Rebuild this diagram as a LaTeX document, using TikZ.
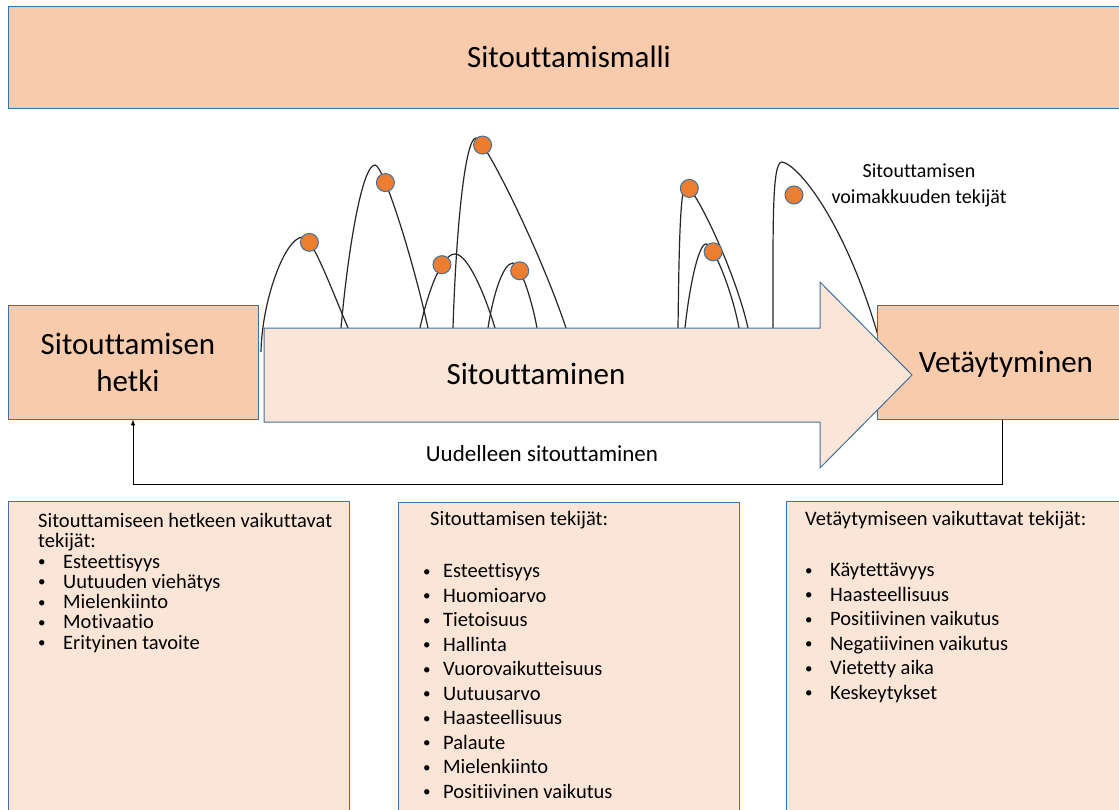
\documentclass[tikz,border=0pt]{standalone}
\usepackage{fontspec}
\setmainfont{Carlito}[Ligatures=NoCommon]

\definecolor{reuna}{HTML}{41719C}
\definecolor{tumma}{HTML}{F8CBAD}
\definecolor{vaalea}{HTML}{FBE5D6}
\definecolor{oranssi}{HTML}{ED7D31}

\newcommand{\pienipiste}{\raisebox{1.5pt}{\fontsize{15}{15}\selectfont •}}
\newcommand{\kohta}[2][25pt]{\makebox[#1][l]{\pienipiste}#2}

\tikzset{
	paalaatikko/.style={rectangle, draw=reuna, fill=tumma, line width=1pt, text centered, align=center, font=\fontsize{31}{37}\selectfont},
	listalaatikko/.style={rectangle, draw=reuna, fill=vaalea, line width=1pt, anchor=north west, minimum width=341, minimum height=320},
	listateksti/.style={anchor=north west, inner sep=0pt, align=left, font=\fontsize{20.5}{24.5}\selectfont},
	piste/.style={circle, draw=reuna, fill=oranssi, line width=1pt, minimum size=18pt, inner sep=0pt},
	kaari/.style={line width=1.2pt, black!85}
}

\begin{document}
\begin{tikzpicture}[x=1pt, y=-1pt]
		\useasboundingbox (0,0) rectangle (1119,809);
		
		%Kaaret
		\draw[kaari] (261,352) .. controls (262,300) and (285,237) .. (303,237) .. controls (312,237) and (330,285) .. (348,328) node[piste, pos=0.2] (pisteA) {};
		\draw[kaari] (341,328) .. controls (348,250) and (362,165) .. (375,165) .. controls (383,165) and (412,255) .. (428,328) node[piste, pos=0.27] (pisteB) {};
		\draw[kaari] (453,328) .. controls (456,230) and (465,138) .. (476,138) .. controls (484,138) and (540,250) .. (566,328) node[piste, pos=0.15] (pisteC) {};
		\draw[kaari] (420,328) .. controls (426,300) and (440,254) .. (455,254) node[piste, pos=0.7] (pisteD) {} .. controls (468,254) and (485,295) .. (495,328);
		\draw[kaari] (488,328) .. controls (493,295) and (503,263) .. (513,263) .. controls (519,263) and (531,295) .. (537,328) node[piste, pos=0.3] (pisteE) {};
		\draw[kaari] (678,328) .. controls (679,250) and (680,186) .. (686,186) .. controls (694,186) and (735,270) .. (748,328) node[piste, pos=0.1] (pisteF) {};
		\draw[kaari] (685,328) .. controls (689,290) and (698,244) .. (706,244) .. controls (713,244) and (732,290) .. (739,328) node[piste, pos=0.25] (pisteG) {};
		\draw[kaari] (773,328) .. controls (773,220) and (772,162) .. (782,162) .. controls (800,165) and (850,230) .. (882,350);
		\node (pisteH) at (794,195) [piste] {};
		
		%Laatikot
		\node (malli) at (569,57) [paalaatikko, minimum width=1122, minimum height=102] {Sitouttamismalli};
		\node (hetki) at (133,362) [paalaatikko, minimum width=250, minimum height=114] {\hspace*{-10pt}Sitouttamisen\\\hspace*{-10pt}hetki};
		\node (vetaytyminen) at (1006,362) [paalaatikko, minimum width=258, minimum height=114, text depth=0pt] {Vetäytyminen};
		
		%Nuoli
		\draw[draw=reuna, fill=vaalea, line width=1pt] (264,328) -- (820,328) -- (820,282) -- (912,375) -- (820,468) -- (820,422) -- (264,422) -- cycle;
		\node (sitouttaminen) at (536,374) [font=\fontsize{31}{37}\selectfont] {Sitouttaminen};
		
		%Paluu
		\coordinate (paluuOikea) at (1002,484);
		\coordinate (paluuVasen) at (133,484);
		\draw[-latex, line width=1pt] (vetaytyminen.south -| paluuOikea) -- (paluuOikea) -- (paluuVasen) -- (hetki.south);
		\node (uudelleen) at (542,454) [font=\fontsize{23}{27}\selectfont] {Uudelleen sitouttaminen};
		
		%Selite
		\node (voimakkuus) at (919,185) [align=center, font=\fontsize{20}{26}\selectfont] {Sitouttamisen\\voimakkuuden tekijät};
		
		%Listat
		\node (hetkiTekijat) at (8,501) [listalaatikko] {};
		\node (hetkiLista) at (38,513) [listateksti, font=\fontsize{20.5}{20.3}\selectfont] {Sitouttamiseen hetkeen vaikuttavat\\tekijät:\\\kohta{Esteettisyys}\\\kohta{Uutuuden viehätys}\\\kohta{Mielenkiinto}\\\kohta{Motivaatio}\\\kohta{Erityinen tavoite}};
		
		\node (sitoutusTekijat) at (398,502) [listalaatikko] {};
		\node (sitoutusLista) at (423,511) [listateksti] {\hspace*{7pt}Sitouttamisen tekijät:\\[28pt]\kohta[20pt]{Esteettisyys}\\\kohta[20pt]{Huomioarvo}\\\kohta[20pt]{Tietoisuus}\\\kohta[20pt]{Hallinta}\\\kohta[20pt]{Vuorovaikutteisuus}\\\kohta[20pt]{Uutuusarvo}\\\kohta[20pt]{Haasteellisuus}\\\kohta[20pt]{Palaute}\\\kohta[20pt]{Mielenkiinto}\\\kohta[20pt]{Positiivinen vaikutus}};
		
		\node (vetaytymisTekijat) at (786,501) [listalaatikko, minimum width=345] {};
		\node (vetaytymisLista) at (805,511) [listateksti] {Vetäytymiseen vaikuttavat tekijät:\\[27pt]\kohta{Käytettävyys}\\\kohta{Haasteellisuus}\\\kohta{Positiivinen vaikutus}\\\kohta{Negatiivinen vaikutus}\\\kohta{Vietetty aika}\\\kohta{Keskeytykset}};
		
\end{tikzpicture}
\end{document}
